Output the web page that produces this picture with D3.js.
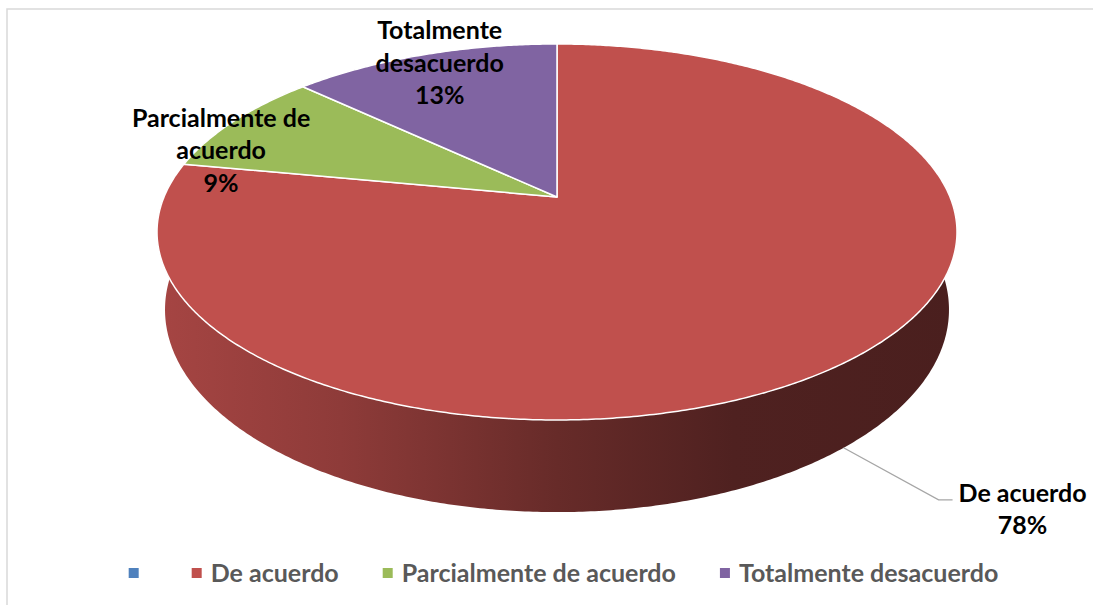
<!DOCTYPE html>
<html>
<head>
<meta charset="utf-8">
<script src="https://cdn.jsdelivr.net/npm/d3@7/dist/d3.min.js"></script>
<style>
    body { margin: 0; background: #fff; }
    #chart { width: 1093px; height: 605px; }
    text { font-family: Lato, "Open Sans", sans-serif; font-weight: bold; }
</style>
</head>
<body>
<div id="chart"></div>
<script>

// Chart data
const categories = ["", "De acuerdo", "Parcialmente de acuerdo", "Totalmente desacuerdo"];
const values = [0, 78, 9, 13];
const sliceColors = ["#4F81BD", "#C0504D", "#9BBB59", "#8064A2"];
// How each data label wraps (percentage line is added from the values)
const labelLines = [[], ["De acuerdo"], ["Parcialmente de", "acuerdo"], ["Totalmente", "desacuerdo"]];

class Pie3DChart {
    constructor(parentElement, categories, values) {
        this.parentElement = parentElement;
        this.categories = categories;
        this.values = values;

        this.initVis();
    }

    initVis() {
        let vis = this;

        vis.width = 1093;
        vis.height = 605;
        vis.fontSize = "25px";

        vis.svg = d3.select("#" + vis.parentElement).append("svg")
            .attr("width", vis.width)
            .attr("height", vis.height);

        // Chart frame (runs off the right and bottom edges)
        vis.svg.append("rect")
            .attr("x", 7)
            .attr("y", 9)
            .attr("width", vis.width + 20)
            .attr("height", vis.height + 20)
            .attr("fill", "none")
            .attr("stroke", "#d9d9d9")
            .attr("stroke-width", 1.5);

        // Perspective disc: centre, half axes, perspective factor, thickness
        vis.geo = {cx: 557, cy: 197, a: 393, b: 181.5, k: 0.186, depth: 75, shrink: 0.02};

        // Side shading (light on the left, dark on the right)
        vis.shade = [[0, 0.4], [0.23, 0.85], [0.5, 1.75], [0.72, 2.5], [1, 2.68]];
        vis.defs = vis.svg.append("defs");

        vis.pie = d3.pie()
            .sort(null)
            .value(d => d.value)
            .startAngle(0)
            .endAngle(2 * Math.PI);

        vis.line = d3.line();

        vis.sideLayer = vis.svg.append("g").attr("class", "sides");
        vis.topLayer = vis.svg.append("g").attr("class", "tops");
        vis.labelLayer = vis.svg.append("g").attr("class", "labels");
        vis.legendLayer = vis.svg.append("g").attr("class", "legend");

        vis.wrangleData();
    }

    // angle clockwise from 12 o'clock, rho = radius fraction, bottom = lower face
    project(theta, rho, bottom) {
        let g = this.geo;
        let u = rho * Math.sin(theta);
        let v = rho * Math.cos(theta);
        let d = 1 + g.k * v;
        let x = g.cx + g.a * u / d;
        let y = g.cy - g.b * v / d;
        if (bottom) {
            x = g.cx + (x - g.cx) * (1 - g.shrink);
            y += g.depth / d;
        }
        return [x, y];
    }

    arcPoints(a0, a1, rho, bottom) {
        let vis = this;
        let n = Math.max(2, Math.ceil((a1 - a0) / (Math.PI / 360)));
        let pts = [];
        for (let i = 0; i <= n; i++) {
            pts.push(vis.project(a0 + (a1 - a0) * i / n, rho, bottom));
        }
        return pts;
    }

    wrangleData() {
        let vis = this;

        vis.total = d3.sum(vis.values);
        vis.displayData = vis.categories.map((c, i) => {
            return {
                key: i,
                name: c,
                value: vis.values[i],
                color: sliceColors[i],
                lines: labelLines[i].concat(vis.values[i] > 0 ? [Math.round(vis.values[i] / vis.total * 100) + "%"] : [])
            };
        });

        vis.arcs = vis.pie(vis.displayData).filter(d => d.endAngle - d.startAngle > 0);

        vis.updateVis();
    }

    updateVis() {
        let vis = this;
        let g = vis.geo;

        // Part of the rim that faces the viewer
        let visLo = Math.acos(0.35), visHi = 2 * Math.PI - Math.acos(0.35);

        // Gradients for the slab sides
        vis.arcs.forEach(d => {
            let grad = vis.defs.append("linearGradient")
                .attr("id", "side-" + d.data.key)
                .attr("gradientUnits", "userSpaceOnUse")
                .attr("x1", g.cx - g.a * 1.018).attr("x2", g.cx + g.a * 1.018)
                .attr("y1", 0).attr("y2", 0);
            vis.shade.forEach(s => {
                grad.append("stop")
                    .attr("offset", s[0])
                    .attr("stop-color", d3.color(d.data.color).darker(s[1]).formatHex());
            });
        });

        // Slab sides
        vis.sideLayer.selectAll("path")
            .data(vis.arcs.filter(d => d.endAngle > visLo && d.startAngle < visHi))
            .enter()
            .append("path")
            .attr("d", d => {
                let a0 = Math.max(d.startAngle, visLo);
                let a1 = Math.min(d.endAngle, visHi);
                let pts = vis.arcPoints(a0, a1, 1, false)
                    .concat(vis.arcPoints(a0, a1, 1, true).reverse());
                return vis.line(pts) + "Z";
            })
            .attr("fill", d => "url(#side-" + d.data.key + ")");

        // Top faces
        vis.topLayer.selectAll("path")
            .data(vis.arcs)
            .enter()
            .append("path")
            .attr("d", d => {
                let pts = [[g.cx, g.cy]].concat(vis.arcPoints(d.startAngle, d.endAngle, 1, false));
                return vis.line(pts) + "Z";
            })
            .attr("fill", d => d.data.color)
            .attr("stroke", "#fff")
            .attr("stroke-width", 1.5)
            .attr("stroke-linejoin", "round");

        // Data labels: leader line for the big slice, offsets for the small ones
        let placement = {
            1: {leader: true},
            2: {dx: -13, dy: 5.7},
            3: {dx: 16, dy: -15.4}
        };
        let lineGap = 32.5;

        vis.arcs.forEach(d => {
            let p = placement[d.data.key];
            let mid = (d.startAngle + d.endAngle) / 2;
            let lab = vis.labelLayer.append("g");

            if (p.leader) {
                let start = vis.project(mid, 1, true);
                let knee = [start[0] + 95, start[1] + 52];
                let end = [knee[0] + 14, knee[1]];
                lab.append("path")
                    .attr("d", vis.line([start, knee, end]))
                    .attr("fill", "none")
                    .attr("stroke", "#a6a6a6")
                    .attr("stroke-width", 1.3);
                let texts = lab.selectAll("text")
                    .data(d.data.lines)
                    .enter()
                    .append("text")
                    .attr("y", (t, i) => knee[1] + 2 + i * lineGap)
                    .attr("text-anchor", "middle")
                    .style("font-size", vis.fontSize)
                    .attr("fill", "#000")
                    .text(t => t);
                let w = d3.max(texts.nodes(), n => n.getComputedTextLength());
                texts.attr("x", end[0] + 6 + w / 2);
            } else {
                let rim = vis.project(mid, 1, false);
                lab.selectAll("text")
                    .data(d.data.lines)
                    .enter()
                    .append("text")
                    .attr("x", rim[0] + p.dx)
                    .attr("y", (t, i) => rim[1] + p.dy + i * lineGap)
                    .attr("text-anchor", "middle")
                    .style("font-size", vis.fontSize)
                    .attr("fill", "#000")
                    .text(t => t);
            }
        });

        // Legend
        let box = 10, gap = 9, after = 44, legendY = 573, legendCentre = 563.5;
        let items = vis.legendLayer.selectAll("g")
            .data(vis.displayData)
            .enter()
            .append("g");
        items.append("rect")
            .attr("width", box)
            .attr("height", box)
            .attr("y", legendY - box / 2)
            .attr("fill", d => d.color);
        items.append("text")
            .attr("y", legendY + 8.5)
            .style("font-size", vis.fontSize)
            .attr("fill", "#595959")
            .text(d => d.name);

        let widths = items.nodes().map(n => d3.select(n).select("text").node().getComputedTextLength());
        let total = d3.sum(widths, w => box + gap + w + after) - after;
        let x = legendCentre - total / 2;
        items.each(function(d, i) {
            d3.select(this).select("rect").attr("x", x);
            d3.select(this).select("text").attr("x", x + box + gap);
            x += box + gap + widths[i] + after;
        });
    }
}

new Pie3DChart("chart", categories, values);

</script>
</body>
</html>
